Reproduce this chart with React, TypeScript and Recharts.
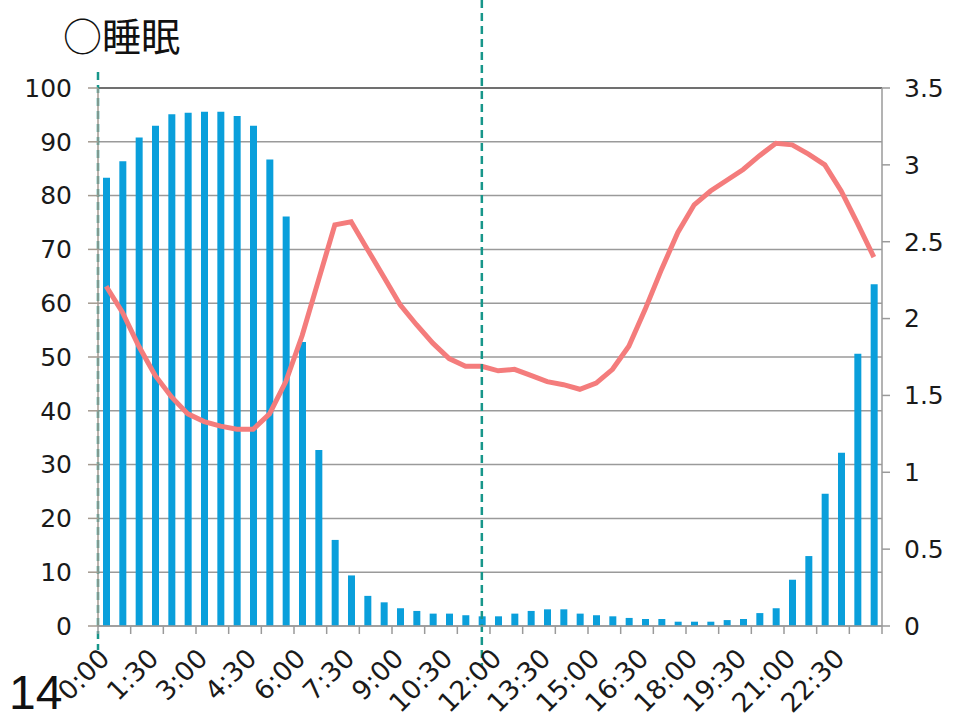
import React from 'react';
import {
  ComposedChart, Bar, Line, XAxis, YAxis, CartesianGrid, ReferenceLine,
} from 'recharts';

// 30-minute slots across the day
const slots = [
  '0:00', '0:30', '1:00', '1:30', '2:00', '2:30', '3:00', '3:30',
  '4:00', '4:30', '5:00', '5:30', '6:00', '6:30', '7:00', '7:30',
  '8:00', '8:30', '9:00', '9:30', '10:00', '10:30', '11:00', '11:30',
  '12:00', '12:30', '13:00', '13:30', '14:00', '14:30', '15:00', '15:30',
  '16:00', '16:30', '17:00', '17:30', '18:00', '18:30', '19:00', '19:30',
  '20:00', '20:30', '21:00', '21:30', '22:00', '22:30', '23:00', '23:30',
];

// share of people asleep in each slot (%), left axis
const sleepRate = [
  83.3, 86.4, 90.8, 93.0, 95.1, 95.4, 95.6, 95.6,
  94.8, 93.0, 86.7, 76.1, 52.8, 32.7, 16.0, 9.4,
  5.6, 4.4, 3.3, 2.8, 2.3, 2.3, 2.0, 1.8,
  1.8, 2.3, 2.8, 3.1, 3.1, 2.3, 2.0, 1.8,
  1.5, 1.3, 1.3, 0.8, 0.8, 0.8, 1.1, 1.3,
  2.4, 3.3, 8.6, 13.0, 24.6, 32.2, 50.6, 63.5,
];

// right axis series
const sleepIndex = [
  2.21, 2.04, 1.82, 1.63, 1.49, 1.38, 1.33, 1.30,
  1.28, 1.28, 1.38, 1.59, 1.89, 2.25, 2.61, 2.63,
  2.45, 2.27, 2.09, 1.96, 1.84, 1.74, 1.69, 1.69,
  1.66, 1.67, 1.63, 1.59, 1.57, 1.54, 1.58, 1.67,
  1.82, 2.06, 2.32, 2.56, 2.74, 2.83, 2.90, 2.97,
  3.06, 3.14, 3.13, 3.07, 3.00, 2.83, 2.62, 2.40,
];

const leftTicks = [0, 10, 20, 30, 40, 50, 60, 70, 80, 90, 100];
const rightTicks = [0, 0.5, 1, 1.5, 2, 2.5, 3, 3.5];

const data = slots.map((time, i) => ({
  time,
  rate: sleepRate[i],
  index: sleepIndex[i],
}));

const AXIS_GRAY = '#9a9a9a';
const TEAL = '#17968a';
const LABEL_FONT = '"DejaVu Sans", sans-serif';

const TimeTick = (props: any) => {
  const { x, y, index, payload } = props;
  const half = payload?.offset ?? 8.17;
  const lx = x + 5;
  const ly = y + 34;
  return (
    <g>
      {index % 2 === 0 && (
        <line x1={x - half} y1={y} x2={x - half} y2={y + 8} stroke={AXIS_GRAY} strokeWidth={1.5} />
      )}
      {index === slots.length - 1 && (
        <line x1={x + half} y1={y} x2={x + half} y2={y + 8} stroke={AXIS_GRAY} strokeWidth={1.5} />
      )}
      {index % 3 === 0 && (
        <text
          x={lx}
          y={ly}
          transform={`rotate(-45 ${lx} ${ly})`}
          textAnchor="end"
          fontSize={26.5}
          fontFamily={LABEL_FONT}
          fill="#1a1a1a"
        >
          {payload.value}
        </text>
      )}
    </g>
  );
};

// dashed marker reaching outside the plot
const markerShape = (up: number, down: number) => (props: any) => (
  <line
    x1={props.x1}
    y1={Math.min(props.y1, props.y2) - up}
    x2={props.x2}
    y2={Math.max(props.y1, props.y2) + down}
    stroke={TEAL}
    strokeWidth={2.5}
    strokeDasharray="8 5"
  />
);

export default function App() {
  return (
    <div
      style={{
        position: 'absolute', left: 0, top: 0, width: 955, height: 718,
        background: '#fff', fontFamily: '"Liberation Sans", Arial, sans-serif',
      }}
    >
      <div
        style={{
          position: 'absolute', left: 63, top: 8, fontSize: 39, color: '#111',
          fontFamily: '"Noto Sans CJK JP", sans-serif', lineHeight: '52px',
        }}
      >
        ○睡眠
      </div>
      <div
        style={{
          position: 'absolute', left: 9, top: 668, fontSize: 48, color: '#111',
          lineHeight: '50px',
        }}
      >
        14
      </div>

      <ComposedChart
        width={955}
        height={718}
        data={data}
        margin={{ top: 88, right: 0, bottom: 0, left: 0 }}
        style={{ position: 'absolute', left: 0, top: 0 }}
      >
        <CartesianGrid yAxisId="left" vertical={false} stroke={AXIS_GRAY} strokeWidth={1.5} />

        <XAxis
          dataKey="time"
          height={92}
          interval={0}
          tickLine={false}
          tickSize={0}
          tickMargin={0}
          stroke={AXIS_GRAY}
          strokeWidth={1.5}
          tick={<TimeTick />}
        />
        <XAxis xAxisId="num" type="number" domain={[0, 48]} allowDataOverflow hide />

        <YAxis
          yAxisId="left"
          width={98}
          domain={[0, 100]}
          ticks={leftTicks}
          interval={0}
          tickSize={10}
          tickMargin={16}
          stroke="#a39a90"
          strokeWidth={1.5}
          tick={{ fontSize: 25, fill: '#1a1a1a', fontFamily: LABEL_FONT }}
        />
        <YAxis
          yAxisId="right"
          orientation="right"
          width={73}
          domain={[0, 3.5]}
          ticks={rightTicks}
          interval={0}
          tickSize={8}
          tickMargin={14}
          stroke={AXIS_GRAY}
          strokeWidth={1.5}
          tick={{ fontSize: 25, fill: '#1a1a1a', fontFamily: LABEL_FONT }}
        />

        <ReferenceLine yAxisId="left" y={100} stroke="#5a5a5a" strokeWidth={1.5} />

        <Bar
          yAxisId="left"
          dataKey="rate"
          fill="#0a9fdb"
          barSize={7}
          isAnimationActive={false}
        />
        <Line
          yAxisId="right"
          dataKey="index"
          type="linear"
          stroke="#f47c7c"
          strokeWidth={5}
          dot={false}
          activeDot={false}
          isAnimationActive={false}
        />

        <ReferenceLine xAxisId="num" yAxisId="left" x={0} shape={markerShape(16, 24)} />
        <ReferenceLine yAxisId="left" x="11:30" shape={markerShape(88, 40)} />
        <ReferenceLine xAxisId="num" yAxisId="left" x={48} shape={markerShape(88, 42)} />
      </ComposedChart>
    </div>
  );
}
